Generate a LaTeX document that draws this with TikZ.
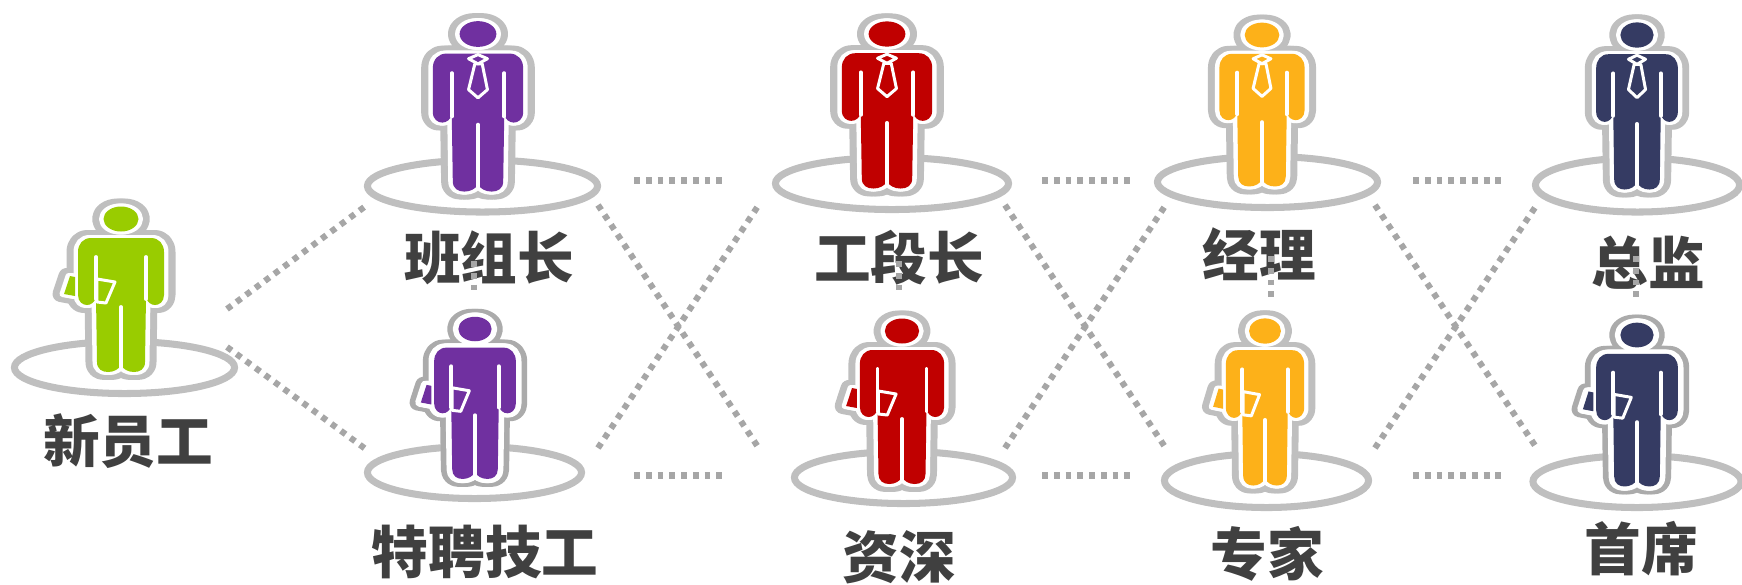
\documentclass[tikz,border=0pt]{standalone}
\usepackage{fontspec}
\setmainfont{Noto Sans CJK SC}
\usetikzlibrary{shapes.geometric}

\definecolor{ringgray}{HTML}{BFBFBF}
\definecolor{darkring}{HTML}{ABABAB}
\definecolor{dotgray}{HTML}{A6A6A6}
\definecolor{labelgray}{HTML}{404040}
\definecolor{mangreen}{HTML}{99CC00}
\definecolor{manpurple}{HTML}{7030A0}
\definecolor{manred}{HTML}{C00000}
\definecolor{manorange}{HTML}{FDB119}
\definecolor{mannavy}{HTML}{353B63}

\tikzset{
  platform/.style={ellipse,draw=ringgray,line width=2pt,inner sep=0pt},
  rank/.style={font=\bfseries\fontsize{16.1pt}{16.1pt}\selectfont,text=labelgray,inner sep=0pt},
  trail/.style={draw=dotgray,line width=1.75pt,dash pattern=on 1.65pt off 1.7pt},
  seam/.style={draw=white,line width=1.1pt,line cap=round},
  trim/.style={draw=white,line width=.85pt,line join=round,fill=manfill},
}

% outline of a man, head centre at the origin
\def\manshape{(0,0) ellipse [x radius=17.5,y radius=12.5]
  (0,19) -- (30,19) .. controls (38,19) and (43,25) .. (43,33) -- (43,76)
  .. controls (43,83) and (38,86) .. (34,86) .. controls (30,86) and (26,83) .. (25,78)
  -- (24,143) .. controls (24,150) and (19,153) .. (13,153) .. controls (7,153) and (2,150) .. (0,146)
  .. controls (-2,150) and (-7,153) .. (-13,153) .. controls (-19,153) and (-24,150) .. (-24,143)
  -- (-25,78) .. controls (-26,83) and (-30,86) .. (-34,86) .. controls (-38,86) and (-43,83) .. (-43,76)
  -- (-43,33) .. controls (-43,25) and (-38,19) .. (-30,19) -- cycle}
\def\folderback{(-51,57) -- (-46,58) -- (-46,77) -- (-57,75) -- cycle}
\def\noback{}

\def\tiepart{
  \filldraw[trim] (-3,29) -- (-9,54) -- (0,62) -- (9,54) -- (4,29) -- cycle;
  \filldraw[trim] (-9,24) -- (0,20) -- (9,24) -- (0,29) -- cycle;
}
\def\folderpart{
  \filldraw[trim] (-24,60) -- (-6,63) -- (-15,84) -- (-24,83) -- cycle;
}

% x, y, xscale, yscale, colour, back shape, front part, ring colour, gap width
\newcommand{\man}[9]{
  \begin{scope}[shift={(#1,#2)},xscale=#3,yscale=#4,line join=round]
    \colorlet{manfill}{#5}
    % the ring is wider at the sides than above and below
    \foreach \dx in {-3.5,0,3.5}
      \draw[draw=#8,fill=#8,line width=4.55pt,xshift=\dx*.01cm] \manshape #6;
    \foreach \dx in {-1.5,0,1.5}
      \draw[draw=white,fill=white,line width=#9,xshift=\dx*.01cm] \manshape #6;
    \fill[manfill] \manshape #6;
    \draw[seam] (-25,38) -- (-25,80);
    \draw[seam] (25,38) -- (25,80);
    \draw[seam] (0,88) -- (0,150);
    #7
  \end{scope}
}

\begin{document}
\begin{tikzpicture}[x=.01cm,y=-.01cm]
    \useasboundingbox (0,0) rectangle (1742,584);

    \node[platform,minimum width=2.2cm,minimum height=.52cm] (pnew) at (124.5,367.5) {};
    \node[platform,minimum width=2.3cm,minimum height=.52cm] (pteam) at (482.5,186) {};
    \node[platform,minimum width=2.14cm,minimum height=.52cm] (ptech) at (474.5,472.5) {};
    \node[platform,minimum width=2.33cm,minimum height=.52cm] (psect) at (892,183.5) {};
    \node[platform,minimum width=2.18cm,minimum height=.52cm] (psenior) at (903.5,477.5) {};
    \node[platform,minimum width=2.2cm,minimum height=.51cm] (pmgr) at (1267.5,182) {};
    \node[platform,minimum width=2.04cm,minimum height=.54cm] (pexpert) at (1266.5,480.5) {};
    \node[platform,minimum width=2.04cm,minimum height=.54cm] (pdir) at (1637.5,185) {};
    \node[platform,minimum width=2.08cm,minimum height=.52cm] (pchief) at (1637,481.5) {};

    \man{121}{219}{1}{1}{mangreen}{\folderback}{\folderpart}{ringgray}{1.7pt}
    \man{478}{34}{1.05}{1.03}{manpurple}{\noback}{\tiepart}{ringgray}{1.7pt}
    \man{475}{329}{.95}{.98}{manpurple}{\folderback}{\folderpart}{darkring}{2.4pt}
    \man{887}{34}{1.05}{1.01}{manred}{\noback}{\tiepart}{ringgray}{1.7pt}
    \man{902}{331}{.98}{1}{manred}{\folderback}{\folderpart}{ringgray}{1.7pt}
    \man{1262}{35}{.99}{.99}{manorange}{\noback}{\tiepart}{ringgray}{1.7pt}
    \man{1265}{331}{.91}{1.01}{manorange}{\folderback}{\folderpart}{ringgray}{1.7pt}
    \man{1637}{35}{.95}{1.01}{mannavy}{\noback}{\tiepart}{ringgray}{1.7pt}
    \man{1637}{335}{.95}{.99}{mannavy}{\folderback}{\folderpart}{darkring}{2.4pt}

    \node[rank] (new) at (128,441) {新员工};
    \node[rank] (team) at (489,257.5) {班组长};
    \node[rank] (tech) at (485,552) {特聘技工};
    \node[rank] (sect) at (899,257.5) {工段长};
    \node[rank] (senior) at (899,557) {资深};
    \node[rank] (mgr) at (1259,254) {经理};
    \node[rank] (expert) at (1267,554) {专家};
    \node[rank] (dir) at (1648,263) {总监};
    \node[rank] (chief) at (1641,549) {首席};

    \coordinate (a0) at (227,309);  \coordinate (b0) at (227,347);
    \coordinate (a1) at (367,205);  \coordinate (b1) at (367,450);
    \coordinate (a2) at (598,205);  \coordinate (b2) at (598,448);
    \coordinate (a3) at (760,203);  \coordinate (b3) at (760,450);
    \coordinate (a4) at (1005,205); \coordinate (b4) at (1005,448);
    \coordinate (a5) at (1167,203); \coordinate (b5) at (1167,450);
    \coordinate (a6) at (1375,205); \coordinate (b6) at (1375,448);
    \coordinate (a7) at (1538,203); \coordinate (b7) at (1538,450);

    \draw[trail] (a0) -- (a1);
    \draw[trail] (b0) -- (b1);
    \draw[trail] (a2) -- (b3);
    \draw[trail] (b2) -- (a3);
    \draw[trail] (a4) -- (b5);
    \draw[trail] (b4) -- (a5);
    \draw[trail] (a6) -- (b7);
    \draw[trail] (b6) -- (a7);

    \coordinate (h1) at (634,180.5); \coordinate (h2) at (724,180.5);
    \coordinate (h3) at (1042,180.5); \coordinate (h4) at (1131,180.5);
    \coordinate (h5) at (1413,180.5); \coordinate (h6) at (1503,180.5);
    \coordinate (k1) at (634,475.5); \coordinate (k2) at (724,475.5);
    \coordinate (k3) at (1042,475.5); \coordinate (k4) at (1131,475.5);
    \coordinate (k5) at (1413,475.5); \coordinate (k6) at (1503,475.5);

    \draw[trail] (h1) -- (h2);
    \draw[trail] (h3) -- (h4);
    \draw[trail] (h5) -- (h6);
    \draw[trail] (k1) -- (k2);
    \draw[trail] (k3) -- (k4);
    \draw[trail] (k5) -- (k6);

    \coordinate (v1) at (474,261); \coordinate (w1) at (474,290);
    \coordinate (v2) at (899,261); \coordinate (w2) at (899,290);
    \coordinate (v3) at (1271,256); \coordinate (w3) at (1271,298);
    \coordinate (v4) at (1636,256); \coordinate (w4) at (1636,298);

    \draw[trail] (v1) -- (w1);
    \draw[trail] (v2) -- (w2);
    \draw[trail] (v3) -- (w3);
    \draw[trail] (v4) -- (w4);
\end{tikzpicture}
\end{document}
